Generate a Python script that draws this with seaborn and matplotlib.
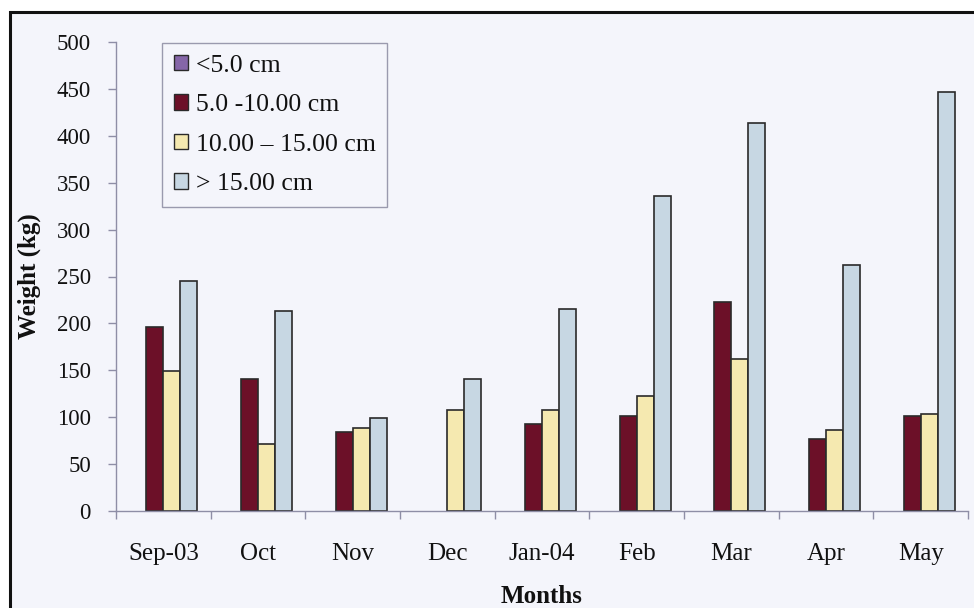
import matplotlib
matplotlib.use("Agg")
import matplotlib.pyplot as plt
from matplotlib.patches import Patch, Rectangle
import seaborn as sns
import pandas as pd

# Monthly catch weight by size class
months = ["Sep-03", "Oct", "Nov", "Dec", "Jan-04", "Feb", "Mar", "Apr", "May"]
size_classes = ["<5.0 cm", "5.0 -10.00 cm", "10.00 \u2013 15.00 cm", "> 15.00 cm"]
w_lt5 = [0, 0, 0, 0, 0, 0, 0, 0, 0]
w_5_10 = [196, 140.5, 84, 0, 93, 101, 222.5, 77, 101]
w_10_15 = [149, 71.5, 88.5, 107.5, 107.5, 123, 162, 86, 103]
w_gt15 = [245, 213.5, 99, 140.5, 215.5, 336, 414, 262.5, 447]

colors = ["#8566A8", "#6C1028", "#F5E9B0", "#C7D7E3"]
bg = "#F4F5FB"

series = [w_lt5, w_5_10, w_10_15, w_gt15]
rows = []
for cls, vals in zip(size_classes, series):
    for m, v in zip(months, vals):
        rows.append({"Month": m, "Size": cls, "Weight": v})
df = pd.DataFrame(rows)

sns.set_theme(style="white")
plt.rcParams["font.family"] = ["Liberation Serif", "DejaVu Serif"]

fig = plt.figure(figsize=(9.74, 6.08), dpi=100)
fig.patch.set_facecolor("white")
# page frame behind the chart
frame = Rectangle((10 / 974, -0.1), 1.1, (608 - 12) / 608 + 0.1,
                  transform=fig.transFigure, facecolor=bg,
                  edgecolor="#111111", linewidth=2.2, zorder=-10)
fig.patches.append(frame)

ax = fig.add_axes([116 / 974, 97 / 608, 852 / 974, 469 / 608])
ax.set_zorder(1)
ax.set_facecolor("none")
ax.patch.set_alpha(0)

sns.barplot(data=df, x="Month", y="Weight", hue="Size", order=months,
            hue_order=size_classes, palette=colors, width=0.72,
            edgecolor="#2a2a2a", linewidth=1.2, saturation=1, errorbar=None,
            legend=False, ax=ax)

# hide outlines on empty bars
for p in ax.patches:
    if p.get_height() == 0:
        p.set_linewidth(0)

ax.set_ylim(0, 500)
ax.set_xlim(-0.5, len(months) - 0.5)
ax.set_yticks(range(0, 501, 50))

for s in ["top", "right"]:
    ax.spines[s].set_visible(False)
for s in ["left", "bottom"]:
    ax.spines[s].set_color("#8E8EA6")
    ax.spines[s].set_linewidth(1.0)

ax.tick_params(axis="y", length=6, width=1, color="#8E8EA6", pad=12,
               labelsize=16.5, labelcolor="#111111", left=True)
ax.tick_params(axis="x", which="major", length=0, pad=23, labelsize=18,
               labelcolor="#111111")
ax.set_xticks([i + 0.5 for i in range(-1, len(months))], minor=True)
ax.tick_params(axis="x", which="minor", length=6, width=1, color="#8E8EA6",
               bottom=True)

ax.set_xlabel("Months", fontsize=18, fontweight="bold", color="#111111")
ax.xaxis.set_label_coords(0.5, (511 - 585) / 469)
ax.set_ylabel("Weight (kg)", fontsize=18, fontweight="bold", color="#111111",
              va="center")
ax.yaxis.set_label_coords((29 - 116) / 852, 0.5)

handles = [Patch(facecolor=c, edgecolor="#2a2a2a", linewidth=1.0) for c in colors]
leg = ax.legend(handles, size_classes, loc="upper left",
                bbox_to_anchor=((162 - 116) / 852, (511 - 43) / 469),
                fontsize=18.5, frameon=True,
                fancybox=False, facecolor=bg, edgecolor="#9A9AAE",
                framealpha=1, handlelength=0.57, handleheight=0.57,
                handletextpad=0.3, labelspacing=0.68, borderpad=0.45,
                borderaxespad=0)
leg.get_frame().set_linewidth(1.0)
for t in leg.get_texts():
    t.set_color("#111111")

fig.savefig("out.png", dpi=100, facecolor=fig.get_facecolor())
